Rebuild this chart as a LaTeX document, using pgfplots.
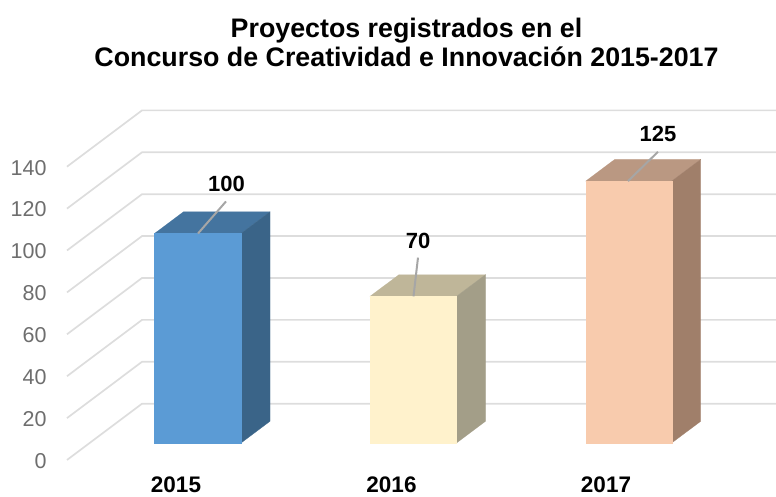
\documentclass[border=0pt]{standalone}
\usepackage{pgfplots}
\pgfplotsset{compat=1.18}
\usepackage{fontspec}
\setmainfont{Liberation Sans}
\definecolor{gridc}{HTML}{DDDDDD}
\definecolor{tickc}{HTML}{6E6E6E}
\definecolor{leaderc}{HTML}{A6A6A6}
\definecolor{bluef}{HTML}{5B9BD5}\definecolor{bluet}{HTML}{44749F}\definecolor{blues}{HTML}{3A6488}
\definecolor{yelf}{HTML}{FFF2CC}\definecolor{yelt}{HTML}{BFB699}\definecolor{yels}{HTML}{A39E88}
\definecolor{pchf}{HTML}{F8CBAD}\definecolor{pcht}{HTML}{BA9882}\definecolor{pchs}{HTML}{A07F6A}
\begin{document}
\begin{tikzpicture}
\useasboundingbox (-67pt,-37pt) rectangle (709pt,460pt);
\begin{axis}[
  scale only axis, width=709pt, height=360pt,
  xmin=67, xmax=776, ymin=-8.11, ymax=163.72,
  clip=false,
  axis line style={draw=none},
  major tick length=0pt,
  xtick={176,391.5,606},
  xticklabels={2015,2016,2017},
  ytick={0,20,...,140},
  xticklabel style={font=\fontsize{22.5}{22.5}\selectfont\bfseries, text=black, inner ysep=0pt, yshift=-17pt},
  yticklabel style={font=\fontsize{21.5}{21.5}\selectfont, text=tickc, xshift=-17pt, yshift=-18pt},
  /pgf/number format/assume math mode=true,
]
% gridlines: floor diagonal and back wall
\pgfplotsinvokeforeach{0,20,...,140}{
  \addplot[gridc, line width=1.7pt, forget plot] coordinates {(67,{#1-8.11}) (142,{#1+18.76}) (776,{#1+18.76})};
}
% 2015
\addplot[bluet, fill=bluet, line width=0.2pt, forget plot] coordinates {(154.5,100) (241,100) (270,110.36) (183.5,110.36)} -- cycle;
\addplot[blues, fill=blues, line width=0.2pt, forget plot] coordinates {(241,0) (270,10.36) (270,110.36) (241,100)} -- cycle;
\addplot[ybar, bar shift=0pt, bar width=86.5pt, fill=bluef, draw=bluef, line width=0.2pt] coordinates {(197.75,100)};
\addplot[leaderc, line width=2pt, forget plot] coordinates {(198,100) (226,115.3)};
\node[font=\fontsize{22}{22}\selectfont\bfseries] at (axis cs:226.5,123.8) {100};
% 2016
\addplot[yelt, fill=yelt, line width=0.2pt, forget plot] coordinates {(370,70) (456.5,70) (485.5,80.36) (399,80.36)} -- cycle;
\addplot[yels, fill=yels, line width=0.2pt, forget plot] coordinates {(456.5,0) (485.5,10.36) (485.5,80.36) (456.5,70)} -- cycle;
\addplot[ybar, bar shift=0pt, bar width=86.5pt, fill=yelf, draw=yelf, line width=0.2pt] coordinates {(413.25,70)};
\addplot[leaderc, line width=2pt, forget plot] coordinates {(413.5,70) (418,88.5)};
\node[font=\fontsize{22}{22}\selectfont\bfseries] at (axis cs:418,96.4) {70};
% 2017
\addplot[pcht, fill=pcht, line width=0.2pt, forget plot] coordinates {(585.7,125) (671.7,125) (700.7,135.36) (614.7,135.36)} -- cycle;
\addplot[pchs, fill=pchs, line width=0.2pt, forget plot] coordinates {(671.7,0) (700.7,10.36) (700.7,135.36) (671.7,125)} -- cycle;
\addplot[ybar, bar shift=0pt, bar width=86pt, fill=pchf, draw=pchf, line width=0.2pt] coordinates {(628.7,125)};
\addplot[leaderc, line width=2pt, forget plot] coordinates {(628,125) (658,139)};
\node[font=\fontsize{22}{22}\selectfont\bfseries] at (axis cs:658,147.5) {125};
% title
\node[anchor=base, font=\fontsize{26.8}{26.8}\selectfont\bfseries] at (axis cs:406.5,193.6) {Proyectos registrados en el};
\node[anchor=base, font=\fontsize{26.8}{26.8}\selectfont\bfseries] at (axis cs:406.5,179.6) {Concurso de Creatividad e Innovación 2015-2017};
\end{axis}
\end{tikzpicture}
\end{document}
